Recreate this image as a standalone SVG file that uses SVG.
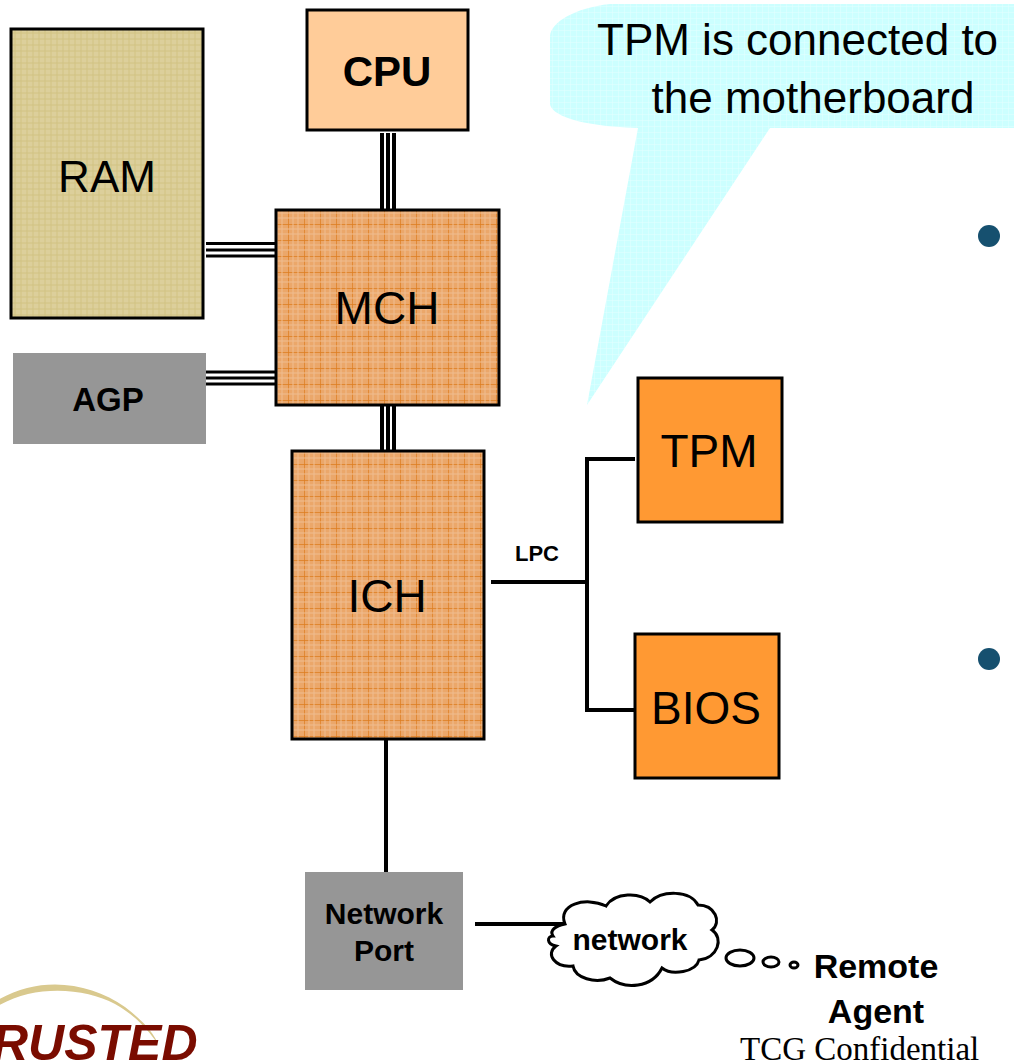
<svg xmlns="http://www.w3.org/2000/svg" width="1014" height="1064" viewBox="0 0 1014 1064">
<style>
text{font-family:"Liberation Sans",Arial,sans-serif;fill:#000}
.big{font-size:46px}
.bold{font-weight:bold}
.box{stroke:#000;stroke-width:3}
.wire{fill:none;stroke:#000;stroke-width:4}
.bus{fill:none;stroke:#000;stroke-width:4}
.busm{fill:none;stroke:#000;stroke-width:5}
</style>
<defs>
<pattern id="tan" width="12" height="12" patternUnits="userSpaceOnUse"><rect width="12" height="12" fill="#dccf9b"/><path d="M0 3H12M0 9H12M3 0V12M9 0V12" stroke="#cdbd78" stroke-width="1" opacity=".7"/></pattern>
<pattern id="org" width="16" height="16" patternUnits="userSpaceOnUse"><rect width="16" height="16" fill="#eba76a"/><path d="M0 0H16M0 0V16" stroke="#dd7c1e" stroke-width="1.4"/><path d="M0 5H16M0 10H16M5 0V16M10 0V16" stroke="#f0bd90" stroke-width="1"/></pattern>
<pattern id="cy" width="6" height="6" patternUnits="userSpaceOnUse"><rect width="6" height="6" fill="#ccffff"/><path d="M0 0H6M0 0V6" stroke="#e4ffff" stroke-width="1"/></pattern>
</defs>
<g id="callout">
<path d="M610 4C575 8 551 22 550 36V104C551 114 575 126 638 128L587 405L770 128H1014V4Z" fill="url(#cy)"/>
<text class="big" x="597" y="55" font-size="44" style="font-size:44px">TPM is connected to</text>
<text x="813" y="113" text-anchor="middle" style="font-size:44px">the motherboard</text>
</g>
<g id="connectors">
<g class="bus">
<path d="M382 133V209M388 133V209M394 133V209"/>
<path d="M382 404V451M388 404V451M394 404V451"/>
</g>
<path class="bus" style="stroke-width:3" d="M206 243.500H275M206 250H275M206 256H275M206 372H275M206 378H275M206 384H275" />
<path class="wire" d="M491 582H587M635 459H587V710H635"/>
<path class="wire" d="M386 740V872M475 924H565"/>
</g>
<g id="cpu"><rect class="box" x="307" y="10" width="161" height="120" fill="#ffcc99"/><text class="bold" x="387" y="86" text-anchor="middle" style="font-size:42px">CPU</text></g>
<g id="ram"><rect class="box" x="11" y="29" width="192" height="289" fill="url(#tan)"/><text x="107" y="192" text-anchor="middle" style="font-size:44px">RAM</text></g>
<g id="mch"><rect class="box" x="276" y="210" width="223" height="195" fill="url(#org)"/><text x="387" y="324" text-anchor="middle" style="font-size:46px">MCH</text></g>
<g id="agp"><rect x="13" y="353" width="193" height="91" fill="#969696"/><text class="bold" x="108" y="411" text-anchor="middle" style="font-size:33px">AGP</text></g>
<g id="ich"><rect class="box" x="292" y="451" width="192" height="288" fill="url(#org)"/><text x="387" y="612" text-anchor="middle" style="font-size:46px">ICH</text></g>
<g id="tpm"><rect class="box" x="638" y="378" width="144" height="144" fill="#ff9933"/><text x="709" y="467" text-anchor="middle" style="font-size:46px">TPM</text></g>
<g id="bios"><rect class="box" x="635" y="634" width="144" height="144" fill="#ff9933"/><text x="706" y="724" text-anchor="middle" style="font-size:46px">BIOS</text></g>
<g id="lpc"><text class="bold" x="537" y="561" text-anchor="middle" style="font-size:22px">LPC</text></g>
<g id="network-port"><rect x="305" y="872" width="158" height="118" fill="#969696"/><text class="bold" x="384" y="924" text-anchor="middle" style="font-size:30px">Network</text><text class="bold" x="384" y="961" text-anchor="middle" style="font-size:30px">Port</text></g>
<g id="network">
<path fill="#fff" stroke="#000" stroke-width="3" d="M565 924C557 905 585 896 606 906C615 892 640 892 650 902C662 890 690 890 698 905C715 905 722 922 712 930C724 938 718 958 699 960C696 972 672 976 662 968C652 988 625 990 610 978C595 984 575 978 573 966C555 968 545 954 556 946C546 944 547 936 553 936C549 930 556 926 565 924Z"/>
<text class="bold" x="630" y="950" text-anchor="middle" style="font-size:30px">network</text>
<g fill="#fff" stroke="#000" stroke-width="3"><ellipse cx="740" cy="958" rx="14" ry="8"/><ellipse cx="771" cy="962" rx="8" ry="5"/><ellipse cx="794" cy="965" rx="4" ry="3"/></g>
</g>
<g id="remote-agent"><text class="bold" x="876" y="978" text-anchor="middle" style="font-size:34px">Remote</text><text class="bold" x="876" y="1023" text-anchor="middle" style="font-size:34px">Agent</text></g>
<g id="bullets" fill="#16506f"><circle cx="989" cy="236" r="11"/><circle cx="989" cy="659" r="11"/></g>
<g id="logo">
<path d="M-2 1000C40 975 90 982 125 1007C142 1020 154 1033 158 1044C148 1030 135 1015 115 1004C85 988 35 984 -2 1006Z" fill="#d9c98e"/>
<text x="-8" y="1060" style="font-size:50px;font-weight:bold;font-style:italic;fill:#7a0c00">RUSTED</text>
</g>
<g id="footer"><text x="740" y="1060" style="font-family:'Liberation Serif',serif;font-size:33px">TCG Confidential</text></g>
</svg>
